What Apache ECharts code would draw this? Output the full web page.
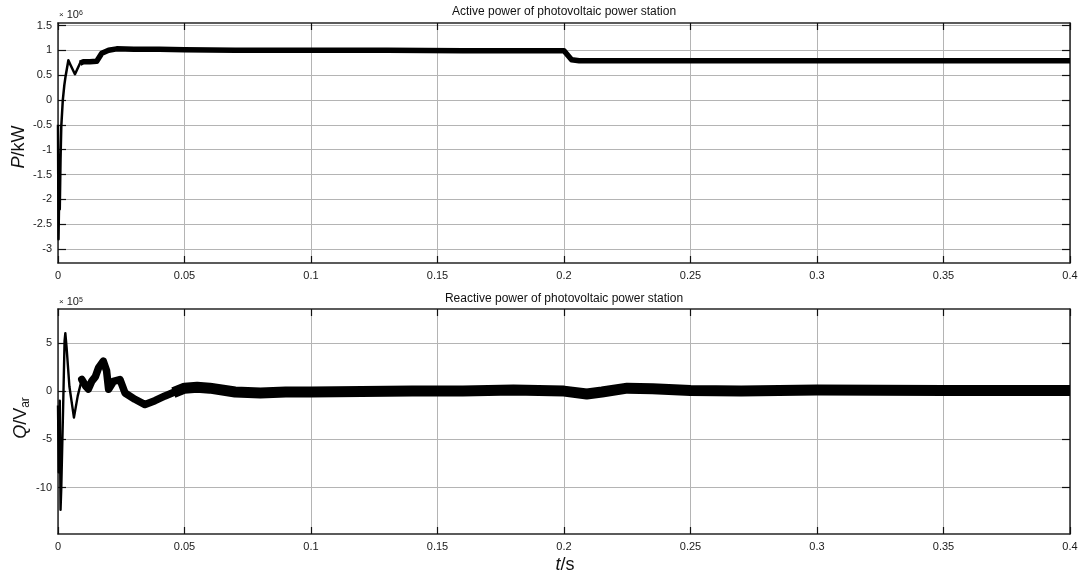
<!DOCTYPE html>
<html><head><meta charset="utf-8">
<script src="https://cdn.jsdelivr.net/npm/echarts@6/dist/echarts.min.js"></script>
<style>html,body{margin:0;padding:0;background:#fff}#c{width:1080px;height:577px}</style>
</head><body><div id="c"></div>
<script>
// ---- data ----
const xTickValues = [0, 0.05, 0.1, 0.15, 0.2, 0.25, 0.3, 0.35, 0.4];
const pTickValues = [-3, -2.5, -2, -1.5, -1, -0.5, 0, 0.5, 1, 1.5];
const qTickValues = [-10, -5, 0, 5];

// Active power P (x10^6), start-up transient
const pTransT = [0, 0.0002, 0.0005, 0.0007, 0.001, 0.0013, 0.0019, 0.0025, 0.003, 0.0041, 0.005, 0.0067, 0.0087, 0.01];
const pTransV = [-0.5, -2.8, -1.8, -2.2, -1.2, -0.53, 0, 0.3, 0.48, 0.8, 0.7, 0.52, 0.74, 0.77];
// Active power P (x10^6), rippling band
const pBandT = [0.0087, 0.01, 0.0126, 0.0153, 0.0173, 0.02, 0.0232, 0.03, 0.04, 0.05, 0.07, 0.1, 0.13, 0.16, 0.19, 0.2, 0.2015, 0.203, 0.206, 0.21, 0.25, 0.3, 0.35, 0.4];
const pBandV = [0.74, 0.77, 0.77, 0.78, 0.94, 1.0, 1.03, 1.02, 1.02, 1.01, 1.0, 1.0, 1.0, 0.99, 0.99, 0.99, 0.9, 0.81, 0.79, 0.79, 0.79, 0.79, 0.79, 0.79];

// Reactive power Q (x10^5), start-up transient
const qTransT = [0, 0.0003, 0.0007, 0.001, 0.0013, 0.002, 0.0026, 0.0029, 0.0034, 0.0045, 0.0063, 0.0078, 0.0094];
const qTransV = [-1.5, -8.4, -1.0, -12.3, -10, -2, 5.2, 6.0, 4.5, 0.5, -2.75, -0.5, 1.2];
// Reactive power Q, oscillating part
const qMidT = [0.0094, 0.011, 0.012, 0.0133, 0.0148, 0.016, 0.0179, 0.0192, 0.02, 0.0219, 0.0245, 0.0265, 0.0304, 0.0344, 0.0383, 0.0423, 0.0456, 0.05];
const qMidV = [1.2, 0.5, 0.2, 1.0, 1.5, 2.4, 3.1, 2.1, 0.2, 1.0, 1.2, -0.2, -0.85, -1.4, -1.0, -0.5, -0.15, 0.3];
// Reactive power Q, steady rippling band
const qBandT = [0.0456, 0.05, 0.055, 0.06, 0.07, 0.08, 0.09, 0.1, 0.12, 0.14, 0.16, 0.18, 0.2, 0.209, 0.215, 0.225, 0.235, 0.25, 0.27, 0.3, 0.35, 0.4];
const qBandV = [-0.15, 0.3, 0.4, 0.3, -0.1, -0.2, -0.1, -0.1, -0.05, 0, 0, 0.1, 0, -0.3, -0.1, 0.3, 0.25, 0.05, 0, 0.1, 0.05, 0.05];

const zip = (t, v) => t.map((x, i) => [x, v[i]]);

const FONT = '"Liberation Sans", Arial, Helvetica, sans-serif';
const lineCol = '#262626';
const gridCol = '#b4b4b4';

function xAx(grid, pos, labels) {
  return {
    type: 'value', gridIndex: grid, position: pos, min: 0, max: 0.4, interval: 0.05,
    axisLine: { show: true, onZero: false, lineStyle: { color: lineCol, width: 1.5 } },
    axisTick: { show: true, inside: true, length: 7, lineStyle: { color: '#111', width: 1.2 } },
    axisLabel: { show: labels, color: '#1a1a1a', fontFamily: FONT, fontSize: 11, margin: 7 },
    splitLine: { show: pos === 'bottom', lineStyle: { color: gridCol, width: 1 } }
  };
}
function yAx(grid, pos, min, max, ticks, labels) {
  return {
    type: 'value', gridIndex: grid, position: pos, min: min, max: max,
    axisLine: { show: true, onZero: false, lineStyle: { color: lineCol, width: 1.5 } },
    axisTick: { show: true, inside: true, length: 8, customValues: ticks, lineStyle: { color: '#111', width: 1.2 } },
    axisLabel: { show: labels, customValues: ticks, color: '#1a1a1a', fontFamily: FONT, fontSize: 11, margin: 6 },
    splitLine: { show: pos === 'left', lineStyle: { color: gridCol, width: 1 } }
  };
}

const chart = echarts.init(document.getElementById('c'), null, { renderer: 'canvas' });
chart.setOption({
  animation: false,
  backgroundColor: '#fff',
  grid: [
    { left: 58, top: 23, width: 1012, height: 240, containLabel: false, outerBoundsMode: 'none' },
    { left: 58, top: 309, width: 1012, height: 225, containLabel: false, outerBoundsMode: 'none' }
  ],
  xAxis: [xAx(0, 'bottom', true), xAx(0, 'top', false), xAx(1, 'bottom', true), xAx(1, 'top', false)],
  yAxis: [
    yAx(0, 'left', -3.28, 1.55, pTickValues, true), yAx(0, 'right', -3.28, 1.55, pTickValues, false),
    yAx(1, 'left', -14.8, 8.5, qTickValues, true), yAx(1, 'right', -14.8, 8.5, qTickValues, false)
  ],
  series: [
    { type: 'line', name: 'P transient', xAxisIndex: 0, yAxisIndex: 0, data: zip(pTransT, pTransV), showSymbol: false, lineStyle: { color: '#000', width: 2.5, join: 'round' } },
    { type: 'line', name: 'P', xAxisIndex: 0, yAxisIndex: 0, data: zip(pBandT, pBandV), showSymbol: false, lineStyle: { color: '#000', width: 5.5, join: 'round', cap: 'butt' } },
    { type: 'line', name: 'Q transient', xAxisIndex: 2, yAxisIndex: 2, data: zip(qTransT, qTransV), showSymbol: false, lineStyle: { color: '#000', width: 2.4, join: 'round' } },
    { type: 'line', name: 'Q mid', xAxisIndex: 2, yAxisIndex: 2, data: zip(qMidT, qMidV), showSymbol: false, lineStyle: { color: '#000', width: 7.5, join: 'round', cap: 'round' } },
    { type: 'line', name: 'Q', xAxisIndex: 2, yAxisIndex: 2, data: zip(qBandT, qBandV), showSymbol: false, lineStyle: { color: '#000', width: 11, join: 'round', cap: 'butt' } }
  ],
  graphic: [
    { type: 'text', x: 564, y: 12, style: { text: 'Active power of photovoltaic power station', font: '12px ' + FONT, fill: '#111', textAlign: 'center', textVerticalAlign: 'middle' } },
    { type: 'text', x: 564, y: 299, style: { text: 'Reactive power of photovoltaic power station', font: '12px ' + FONT, fill: '#111', textAlign: 'center', textVerticalAlign: 'middle' } },
    { type: 'text', x: 59, y: 15, style: { text: '{a|×}{b| 10}{c|6}', textVerticalAlign: 'middle', rich: { a: { fontSize: 8, fontFamily: FONT, fill: '#222' }, b: { fontSize: 11, fontFamily: FONT, fill: '#222' }, c: { fontSize: 7, fontFamily: FONT, fill: '#222', verticalAlign: 'top' } } } },
    { type: 'text', x: 59, y: 302, style: { text: '{a|×}{b| 10}{c|5}', textVerticalAlign: 'middle', rich: { a: { fontSize: 8, fontFamily: FONT, fill: '#222' }, b: { fontSize: 11, fontFamily: FONT, fill: '#222' }, c: { fontSize: 7, fontFamily: FONT, fill: '#222', verticalAlign: 'top' } } } },
    { type: 'text', x: 19, y: 147, rotation: Math.PI / 2, style: { text: '{i|P}{n|/kW}', textAlign: 'center', textVerticalAlign: 'middle', rich: { i: { fontSize: 18, fontStyle: 'italic', fontFamily: FONT, fill: '#111' }, n: { fontSize: 18, fontFamily: FONT, fill: '#111' } } } },
    { type: 'text', x: 21, y: 418, rotation: Math.PI / 2, style: { text: '{i|Q}{n|/V}{s|ar}', textAlign: 'center', textVerticalAlign: 'middle', rich: { i: { fontSize: 18, fontStyle: 'italic', fontFamily: FONT, fill: '#111', lineHeight: 22 }, n: { fontSize: 18, fontFamily: FONT, fill: '#111', lineHeight: 22 }, s: { fontSize: 12, fontFamily: FONT, fill: '#111', verticalAlign: 'bottom', lineHeight: 12 } } } },
    { type: 'text', x: 565, y: 565, style: { text: '{i|t}{n|/s}', textAlign: 'center', textVerticalAlign: 'middle', rich: { i: { fontSize: 18, fontStyle: 'italic', fontFamily: FONT, fill: '#111' }, n: { fontSize: 18, fontFamily: FONT, fill: '#111' } } } }
  ]
});
</script>
</body></html>
